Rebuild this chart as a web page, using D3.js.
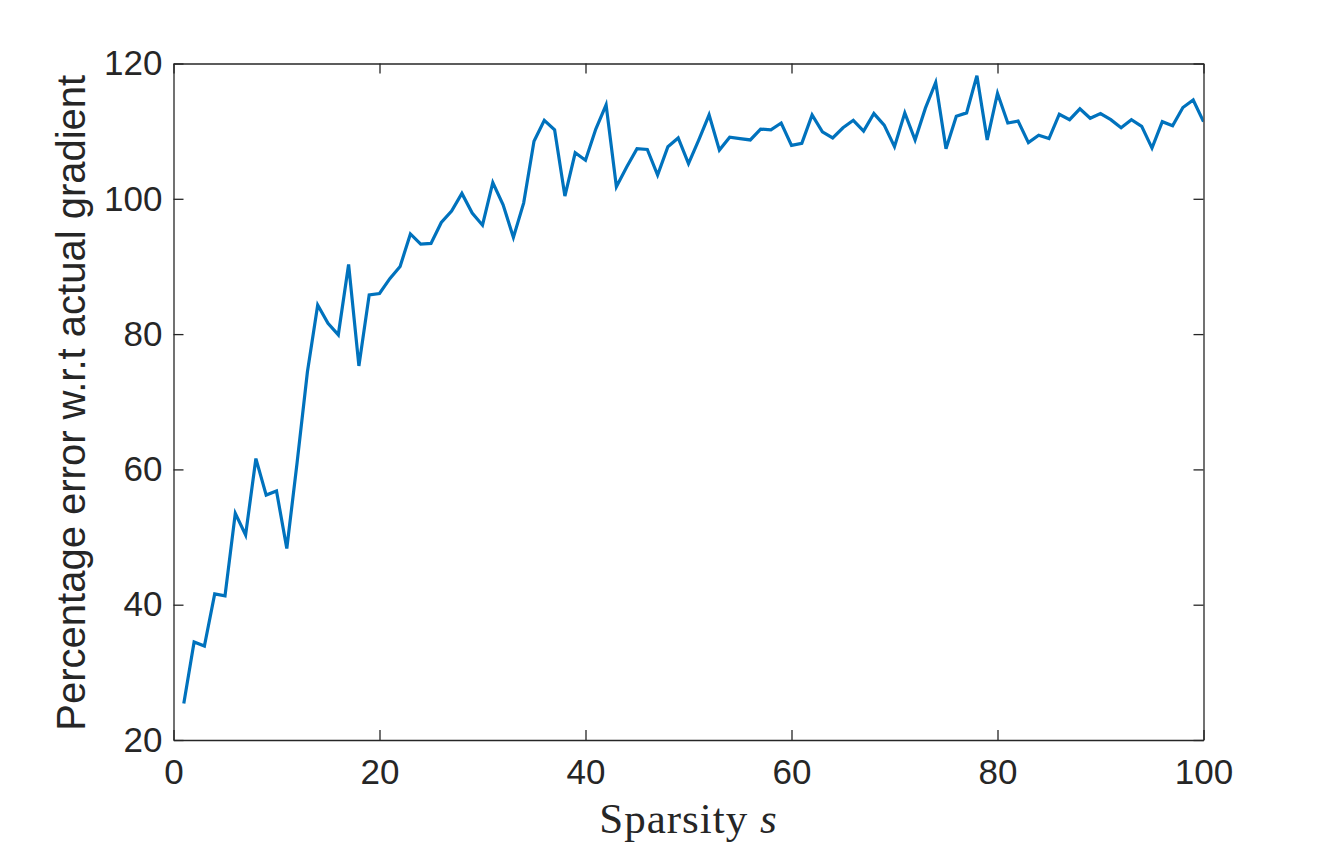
<!DOCTYPE html>
<html>
<head>
<meta charset="utf-8">
<script src="https://cdn.jsdelivr.net/npm/d3@7"></script>
<style>
  html, body { margin: 0; padding: 0; background: #fff; }
  svg { display: block; }
</style>
</head>
<body>
<svg id="chart" width="1330" height="848"></svg>
<script>
// Data: sparsity s = 1..100, percentage error
const sparsity = d3.range(1, 101);
const percentError = [
  25.4, 34.5, 33.9, 41.6, 41.3, 53.5, 50.3, 61.6, 56.2, 56.8,
  48.3, 61.0, 74.4, 84.3, 81.6, 79.9, 90.3, 75.3, 85.8, 86.0,
  88.2, 90.0, 94.8, 93.3, 93.4, 96.5, 98.2, 100.8, 97.9, 96.1,
  102.4, 99.1, 94.3, 99.4, 108.5, 111.6, 110.2, 100.4, 106.8, 105.7,
  110.3, 113.9, 101.8, 104.7, 107.4, 107.3, 103.5, 107.7, 109.0, 105.2,
  108.7, 112.4, 107.2, 109.1, 108.9, 108.7, 110.3, 110.2, 111.2, 107.9,
  108.2, 112.4, 109.9, 109.0, 110.5, 111.6, 110.0, 112.6, 110.9, 107.7,
  112.7, 108.7, 113.4, 117.2, 107.4, 112.2, 112.7, 118.2, 108.7, 115.6,
  111.2, 111.5, 108.3, 109.4, 108.9, 112.5, 111.7, 113.3, 111.9, 112.6,
  111.7, 110.5, 111.7, 110.7, 107.5, 111.4, 110.8, 113.5, 114.6, 111.4
];
const xTicks = [0, 20, 40, 60, 80, 100];
const yTicks = [20, 40, 60, 80, 100, 120];
const xLabel = "Sparsity ";
const xLabelVar = "s";
const yLabel = "Percentage error w.r.t actual gradient";

(function () {
const svg = d3.select("#chart");
const pLeft = 173.5, pRight = 1203.5, pTop = 63.5, pBottom = 740;
const axisColor = "#262626";
const tickFont = "'Liberation Sans', Arial, Helvetica, sans-serif";

const x = d3.scaleLinear().domain([0, 100]).range([pLeft, pRight]);
const y = d3.scaleLinear().domain([20, 120]).range([pBottom, pTop]);

svg.append("clipPath").attr("id", "clip")
  .append("rect").attr("x", pLeft).attr("y", pTop)
  .attr("width", pRight - pLeft).attr("height", pBottom - pTop);

const line = d3.line().x((d, i) => x(sparsity[i])).y(d => y(d));
svg.append("path")
  .datum(percentError)
  .attr("clip-path", "url(#clip)")
  .attr("fill", "none")
  .attr("stroke", "#0072BD")
  .attr("stroke-width", 3.2)
  .attr("stroke-linejoin", "miter")
  .attr("d", line);

const tickLen = 10;
function styleAxis(g) {
  g.selectAll("path.domain").attr("stroke", axisColor).attr("stroke-width", 1.3);
  g.selectAll(".tick line").attr("stroke", axisColor).attr("stroke-width", 1.3);
  g.selectAll(".tick text").attr("fill", axisColor)
    .style("font-family", tickFont).style("font-size", "35px");
}

svg.append("g").attr("transform", `translate(0,${pBottom})`)
  .call(d3.axisBottom(x).tickValues(xTicks).tickSize(-tickLen).tickSizeOuter(0).tickPadding(19))
  .call(styleAxis);
svg.append("g").attr("transform", `translate(0,${pTop})`)
  .call(d3.axisTop(x).tickValues(xTicks).tickSize(-tickLen).tickSizeOuter(0).tickFormat(""))
  .call(styleAxis);
svg.append("g").attr("transform", `translate(${pLeft},0)`)
  .call(d3.axisLeft(y).tickValues(yTicks).tickSize(-tickLen).tickSizeOuter(0).tickPadding(11))
  .call(styleAxis);
svg.append("g").attr("transform", `translate(${pRight},0)`)
  .call(d3.axisRight(y).tickValues(yTicks).tickSize(-tickLen).tickSizeOuter(0).tickFormat(""))
  .call(styleAxis);

svg.append("text")
  .attr("transform", `translate(85,${(pTop + pBottom) / 2 + 1}) rotate(-90)`)
  .attr("text-anchor", "middle")
  .attr("fill", axisColor)
  .style("font-family", tickFont)
  .style("font-size", "40px")
  .text(yLabel);

const xl = svg.append("text")
  .attr("x", (pLeft + pRight) / 2)
  .attr("y", 833)
  .attr("text-anchor", "middle")
  .attr("fill", axisColor)
  .style("font-family", "'Liberation Serif', 'DejaVu Serif', serif")
  .style("font-size", "43px")
  .style("letter-spacing", "1px");
xl.append("tspan").text(xLabel);
xl.append("tspan").style("font-style", "italic").text(xLabelVar);
})();
</script>
</body>
</html>
